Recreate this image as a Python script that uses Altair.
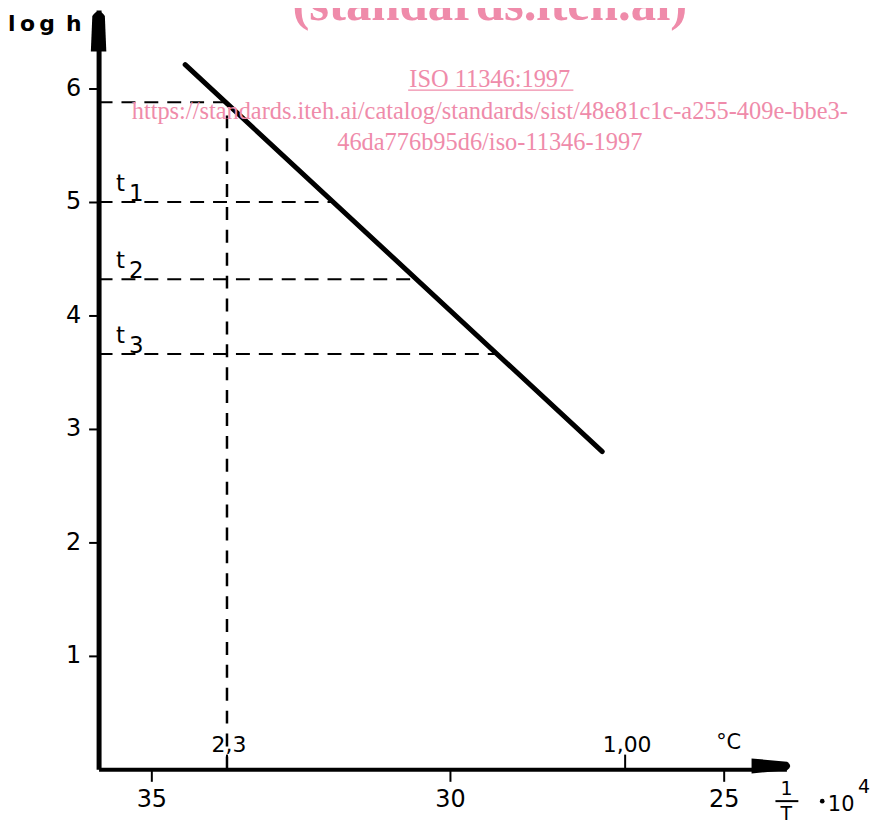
import altair as alt
import pandas as pd

# ---------------- data ----------------
# y axis (log h)
y_ticks = [1, 2, 3, 4, 5, 6]
# x axis: positions along the 1/T*10^4 axis (arbitrary axis units) and their °C labels
x_tick_pos = [0.53, 3.53, 6.28]
x_tick_lab = ["35", "30", "25"]
# upper (inner) marks on the x axis
upper_pos = [1.29, 5.29]
upper_lab = ["2,3", "1,00"]

# straight line log h vs 1/T
line_x = [0.87, 5.06]
line_y = [6.21, 2.80]

# horizontal dashed reading lines
h_levels = [5.88, 5.00, 4.32, 3.66]
h_ends = [1.29, 2.36, 3.16, 3.98]
t_names = ["1", "2", "3"]
t_levels = [5.00, 4.32, 3.66]

# vertical dashed reading line
v_x = 1.29
v_from = 0.0
v_to = 5.88

# watermark text
wm_big = "(standards.iteh.ai)"
wm_lines = ["ISO 11346:1997",
            "https://standards.iteh.ai/catalog/standards/sist/48e81c1c-a255-409e-bbe3-",
            "46da776b95d6/iso-11346-1997"]
wm_y = [6.01, 5.73, 5.455]
wm_x = 3.93
PINK = "#EF8BAA"

FONT = "DejaVu Sans"

xs = alt.Scale(domain=[0, 6.91], nice=False, zero=False)
ys = alt.Scale(domain=[0, 6.693], nice=False, zero=False)

label_expr = " : ".join(
    f"abs(datum.value - {p}) < 0.01 ? '{l}'" for p, l in zip(x_tick_pos, x_tick_lab)
) + " : ''"

AX = alt.Axis(values=x_tick_pos, labelExpr=label_expr, title=None, grid=False,
              domainColor="black", domainWidth=4, tickColor="black", tickWidth=2,
              tickSize=12, labelFontSize=24, labelFont=FONT, labelColor="black",
              labelPadding=6)
AY = alt.Axis(values=y_ticks, format="d", title=None, grid=False,
              domainColor="black", domainWidth=5, tickColor="black", tickWidth=2,
              tickSize=10, labelFontSize=24, labelFont=FONT, labelColor="black",
              labelPadding=8)


def X(field):
    return alt.X(field, scale=xs, axis=AX, title=None)


def Y(field):
    return alt.Y(field, scale=ys, axis=AY, title=None)


# main line
df_line = pd.DataFrame({"x": line_x, "y": line_y})
main = alt.Chart(df_line).mark_line(color="black", strokeWidth=5, strokeCap="round").encode(
    x=X("x:Q"), y=Y("y:Q"))

# horizontal dashed lines
df_h = pd.DataFrame({"y": h_levels, "x0": [0.0] * len(h_levels), "x1": h_ends})
hlines = alt.Chart(df_h).mark_rule(color="black", strokeWidth=2, strokeDash=[14, 9]).encode(
    x=X("x0:Q"), x2="x1:Q", y=Y("y:Q"))

# vertical dashed line
df_v = pd.DataFrame({"x": [v_x], "y0": [v_from], "y1": [v_to]})
vline = alt.Chart(df_v).mark_rule(color="black", strokeWidth=2.5, strokeDash=[13, 10]).encode(
    x=X("x:Q"), y=Y("y0:Q"), y2="y1:Q")

# upper small ticks on x axis
df_up = pd.DataFrame({"x": upper_pos, "lab": upper_lab,
                      "y0": [0.0] * len(upper_pos), "y1": [0.13] * len(upper_pos),
                      "ty": [0.21] * len(upper_pos)})
up_ticks = alt.Chart(df_up).mark_rule(color="black", strokeWidth=2).encode(
    x=X("x:Q"), y=Y("y0:Q"), y2="y1:Q")
up_text = alt.Chart(df_up).mark_text(font=FONT, fontSize=22, color="black",
                                     baseline="middle", align="center", dx=2).encode(
    x=X("x:Q"), y=Y("ty:Q"), text="lab:N")

# t labels
df_t = pd.DataFrame({"lev": t_levels, "num": t_names})
df_t["ty"] = df_t["lev"] + 0.16
df_t["ny"] = df_t["lev"] + 0.07
df_t["t"] = "t"
t_letter = alt.Chart(df_t).mark_text(font=FONT, fontSize=23, color="black",
                                     baseline="middle", align="center").encode(
    x=alt.value(22), y=Y("ty:Q"), text="t:N")
t_num = alt.Chart(df_t).mark_text(font=FONT, fontSize=23, color="black",
                                  baseline="middle", align="center").encode(
    x=alt.value(38), y=Y("ny:Q"), text="num:N")

# annotation texts (axis title pieces)
df_ann = pd.DataFrame({
    "x": [6.33, 7.46],
    "y": [0.23, -0.31],
    "text": ["°C", "10"],
})
ann = alt.Chart(df_ann).mark_text(font=FONT, fontSize=21, color="black",
                                  baseline="middle", align="center").encode(
    x=X("x:Q"), y=Y("y:Q"), text="text:N")
df_frac = pd.DataFrame({"x": [6.91, 6.91], "y": [-0.17, -0.39], "text": ["1", "T"]})
frac = alt.Chart(df_frac).mark_text(font=FONT, fontSize=19, color="black",
                                    baseline="middle", align="center").encode(
    x=X("x:Q"), y=Y("y:Q"), text="text:N")
df_ann2 = pd.DataFrame({"x": [7.69], "y": [-0.16], "text": ["4"]})
ann_sup = alt.Chart(df_ann2).mark_text(font=FONT, fontSize=19, color="black",
                                       baseline="middle", align="center").encode(
    x=X("x:Q"), y=Y("y:Q"), text="text:N")
df_dot = pd.DataFrame({"x": [7.27], "y": [-0.28]})
dot = alt.Chart(df_dot).mark_point(shape="circle", size=22, filled=True,
                                   color="black", opacity=1).encode(x=X("x:Q"), y=Y("y:Q"))
df_title = pd.DataFrame({"x": [-0.54], "y": [6.57], "text": ["l\u2009o\u2009g\u2002h"]})
ytitle = alt.Chart(df_title).mark_text(font=FONT, fontSize=22, fontWeight="bold",
                                       color="black", baseline="middle", align="center").encode(
    x=X("x:Q"), y=Y("y:Q"), text="text:N")

df_bar = pd.DataFrame({"x0": [6.80], "x1": [7.03], "y": [-0.28]})
frac_bar = alt.Chart(df_bar).mark_rule(color="black", strokeWidth=2).encode(
    x=X("x0:Q"), x2="x1:Q", y=Y("y:Q"))

# arrows
df_arr = pd.DataFrame({"x": [0.0], "y": [6.51]})
y_arrow = alt.Chart(df_arr).mark_point(
    shape="M-0.37,1 L-0.3,-0.7 Q0,-1.15 0.3,-0.7 L0.37,1 Z",
    size=1764, filled=True, color="black", opacity=1).encode(x=X("x:Q"), y=Y("y:Q"))
df_arr2 = pd.DataFrame({"x": [6.77], "y": [0.03]})
x_arrow = alt.Chart(df_arr2).mark_point(
    shape="M-1,-0.36 L0.7,-0.2 Q1,0 0.7,0.2 L-1,0.36 Z",
    size=1764, filled=True, color="black", opacity=1).encode(x=X("x:Q"), y=Y("y:Q"))

# watermark
df_wm_big = pd.DataFrame({"x": [wm_x], "y": [6.605], "text": [wm_big]})
wm1 = alt.Chart(df_wm_big).mark_text(font="Liberation Serif", fontSize=51, fontWeight="bold",
                                     color=PINK, baseline="alphabetic", align="center").encode(
    x=X("x:Q"), y=Y("y:Q"), text="text:N")
df_wm = pd.DataFrame({"x": [wm_x] * 3, "y": wm_y, "text": wm_lines})
wm2 = alt.Chart(df_wm).mark_text(font="Liberation Serif", fontSize=24.5,
                                 color=PINK, baseline="alphabetic", align="center").encode(
    x=X("x:Q"), y=Y("y:Q"), text="text:N")
df_ul = pd.DataFrame({"x0": [3.11], "x1": [4.77], "y": [5.985]})
wm_ul = alt.Chart(df_ul).mark_rule(color=PINK, strokeWidth=1.2).encode(
    x=X("x0:Q"), x2="x1:Q", y=Y("y:Q"))

chart = alt.layer(
    main, hlines, vline, up_ticks, up_text, t_letter, t_num, ann, frac, ann_sup, dot, ytitle,
    frac_bar, y_arrow, x_arrow, wm1, wm2, wm_ul,
).properties(
    width=691, height=763,
    padding={"left": 91, "top": 0, "right": 86, "bottom": 52},
    autosize="none",
    background="white",
).configure_view(stroke=None)

chart.save("out.html", embed_options={"renderer": "svg", "actions": False})
